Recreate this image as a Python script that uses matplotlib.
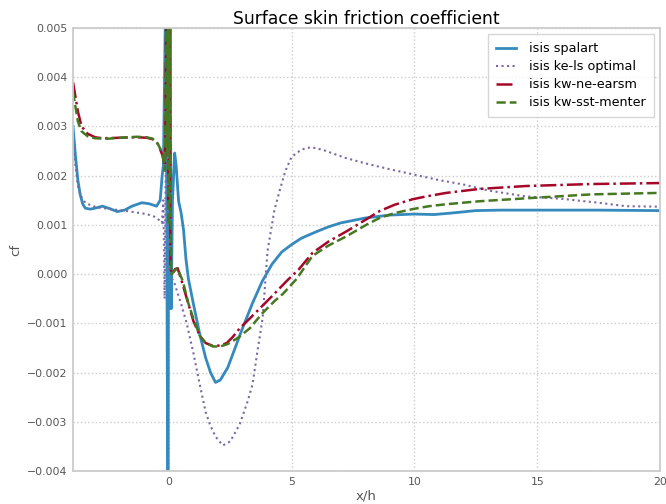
import matplotlib
matplotlib.use("Agg")
import matplotlib.pyplot as plt

# ---- data ----
x_spalart = [-3.9, -3.8, -3.7, -3.6, -3.5, -3.4, -3.2, -3.0, -2.7, -2.4, -2.1, -1.8, -1.5, -1.1,
             -0.8, -0.5, -0.35, -0.27, -0.22, -0.12, -0.07, -0.03, 0.0, 0.03, 0.06, 0.1, 0.15,
             0.24, 0.3, 0.4, 0.5, 0.6, 0.7, 0.8, 1.0, 1.26, 1.5, 1.7, 1.9, 2.1, 2.4, 2.7, 3.0,
             3.4, 3.8, 4.2, 4.6, 5.0, 5.4, 6.0, 6.5, 7.0, 8.0, 9.0, 10.0, 10.8, 11.5, 12.5,
             13.5, 15.0, 17.5, 20.0]
cf_spalart = [0.0030, 0.0024, 0.0019, 0.0016, 0.00142, 0.00134, 0.00132, 0.00134, 0.00138,
              0.00133, 0.00127, 0.00130, 0.00138, 0.00145, 0.00143, 0.00138, 0.0015, 0.0020,
              0.0022, 0.0060, -0.0007, -0.0060, 0.0060, -0.0007, 0.0050, -0.0007, 0.0015,
              0.00246, 0.0022, 0.00148, 0.00125, 0.0009, 0.0003, -0.0001, -0.0006, -0.00122,
              -0.0017, -0.0020, -0.0022, -0.00215, -0.0019, -0.0015, -0.0011, -0.0006,
              -0.00015, 0.0002, 0.00045, 0.0006, 0.00073, 0.00086, 0.00096, 0.00104, 0.00114,
              0.0012, 0.00122, 0.00121, 0.00124, 0.00129, 0.0013, 0.0013, 0.0013, 0.00129]

x_kels = [-3.9, -3.8, -3.7, -3.6, -3.4, -3.1, -2.8, -2.4, -2.0, -1.7, -1.3, -0.9, -0.6, -0.4,
          -0.28, -0.22, -0.17, -0.12, -0.07, -0.02, 0.05, 0.24, 0.5, 0.73, 1.0, 1.26, 1.5, 1.67,
          1.9, 2.2, 2.5, 2.89, 3.2, 3.41, 3.6, 3.82, 4.02, 4.3, 4.51, 4.75, 5.0, 5.4, 5.8, 6.3,
          7.2, 8.0, 9.0, 10.0, 11.0, 12.0, 13.0, 14.5, 16.0, 17.5, 18.6, 20.0]
cf_kels = [0.0028, 0.0022, 0.0018, 0.0016, 0.00145, 0.00138, 0.00135, 0.00132, 0.0013, 0.00128,
           0.00125, 0.00122, 0.00117, 0.0011, 0.00104, 0.0015, -0.0005, 0.0025, 0.0052, 0.0002,
           0.0, -0.0002, -0.0006, -0.001, -0.0016, -0.00224, -0.0028, -0.00305, -0.0033,
           -0.00348, -0.0034, -0.00305, -0.0026, -0.00224, -0.0016, -0.0009, 0.00047, 0.0013,
           0.00169, 0.0021, 0.00238, 0.00253, 0.00258, 0.00252, 0.00236, 0.00225, 0.00213,
           0.00202, 0.00191, 0.00182, 0.0017, 0.00158, 0.00153, 0.00145, 0.00138, 0.00137]

x_earsm = [-3.9, -3.8, -3.7, -3.55, -3.3, -3.0, -2.7, -2.0, -1.3, -0.9, -0.65, -0.45, -0.37,
           -0.25, -0.15, -0.1, -0.06, -0.03, 0.0, 0.03, 0.07, 0.15, 0.25, 0.36, 0.5, 0.73, 1.0,
           1.26, 1.5, 1.8, 2.1, 2.36, 2.6, 2.89, 3.3, 3.7, 4.2, 4.8, 5.3, 5.85, 6.5, 7.24, 8.0,
           8.58, 9.2, 9.92, 10.5, 11.3, 12.64, 14.55, 17.2, 20.0]
cf_earsm = [0.0039, 0.0036, 0.0033, 0.0030, 0.00285, 0.00278, 0.00276, 0.00277, 0.00278,
            0.00277, 0.00274, 0.00265, 0.00256, 0.0024, 0.0022, 0.0055, 0.0028, 0.0055, 0.0015,
            0.0055, 0.0001, 0.0, 0.0001, 0.00012, -0.0001, -0.00049, -0.00095, -0.00125,
            -0.0014, -0.00146, -0.00145, -0.0014, -0.00128, -0.0011, -0.0009, -0.0007,
            -0.00045, -0.00014, 0.0001, 0.00043, 0.00066, 0.00087, 0.0011, 0.00128, 0.00141,
            0.00152, 0.00158, 0.00165, 0.00173, 0.00179, 0.00183, 0.00185]

x_sst = [-3.9, -3.8, -3.7, -3.55, -3.3, -3.0, -2.5, -2.0, -1.3, -0.9, -0.65, -0.45, -0.35,
         -0.25, -0.15, -0.1, -0.06, -0.03, 0.0, 0.03, 0.06, 0.1, 0.2, 0.35, 0.57, 0.8, 1.0,
         1.26, 1.5, 1.8, 2.1, 2.4, 2.8, 3.3, 3.8, 4.3, 4.65, 5.2, 5.85, 6.5, 7.24, 8.0, 8.58,
         9.2, 9.92, 10.6, 11.3, 12.64, 14.55, 17.2, 20.0]
cf_sst = [0.0037, 0.0034, 0.0031, 0.0029, 0.0028, 0.00276, 0.00275, 0.00277, 0.00279, 0.00278,
          0.00275, 0.00265, 0.00255, 0.0024, 0.0021, 0.0055, 0.0025, 0.0055, 0.0010, 0.0055,
          0.0020, 0.0, 0.00005, 0.00012, -0.00014, -0.0006, -0.0009, -0.00125, -0.0014,
          -0.00147, -0.00147, -0.00142, -0.0013, -0.0011, -0.0008, -0.00055, -0.0004, -0.0001,
          0.00037, 0.00058, 0.00077, 0.00099, 0.00114, 0.00124, 0.00132, 0.00138, 0.00142,
          0.00148, 0.00154, 0.00162, 0.00165]

labels = ["isis spalart", "isis ke-ls optimal", "isis kw-ne-earsm", "isis kw-sst-menter"]
x_ticks = [0, 5, 10, 15, 20]
y_ticks = [-0.004, -0.003, -0.002, -0.001, 0.0, 0.001, 0.002, 0.003, 0.004, 0.005]

# ---- figure ----
fig = plt.figure(figsize=(6.66, 5.04), dpi=100)
ax = fig.add_axes([73/666, 1-471/504, (660-73)/666, (471-28)/504])

ax.plot(x_spalart, cf_spalart, color="#348ABD", lw=2.0, ls="-", label=labels[0])
ax.plot(x_kels, cf_kels, color="#7A68A6", lw=1.5, ls=":", label=labels[1])
ax.plot(x_earsm, cf_earsm, color="#A60628", lw=1.8, ls="-.", label=labels[2])
ax.plot(x_sst, cf_sst, color="#467821", lw=1.8, ls="--", label=labels[3])

ax.set_xlim(-3.9, 20)
ax.set_ylim(-0.004, 0.005)
ax.set_xticks(x_ticks)
ax.set_yticks(y_ticks)
ax.set_yticklabels([f"{v:.3f}".replace("-", "\u2212") for v in y_ticks])

ax.grid(True, color="#cccccc", ls=":", lw=1.0)
ax.set_axisbelow(True)
for s in ax.spines.values():
    s.set_color("#cccccc")
    s.set_linewidth(1.3)
ax.tick_params(length=0, colors="#555555", labelsize=7.8)
ax.tick_params(axis="y", pad=4)
ax.tick_params(axis="x", pad=4)

ax.set_title("Surface skin friction coefficient", fontsize=12.3, color="black", pad=3)
ax.set_xlabel("x/h", fontsize=9.5, color="#555555", labelpad=2)
ax.set_ylabel("cf", fontsize=9.5, color="#555555")
ax.yaxis.set_label_coords(-0.086, 0.5)

leg = ax.legend(loc="upper right", fontsize=9.2, frameon=True, fancybox=False,
                handlelength=1.6, borderpad=0.6, labelspacing=0.4,
                borderaxespad=0.5, handletextpad=1.0)
leg.get_frame().set_edgecolor("#cccccc")
leg.get_frame().set_linewidth(1.0)

fig.savefig("out.png", dpi=100)
